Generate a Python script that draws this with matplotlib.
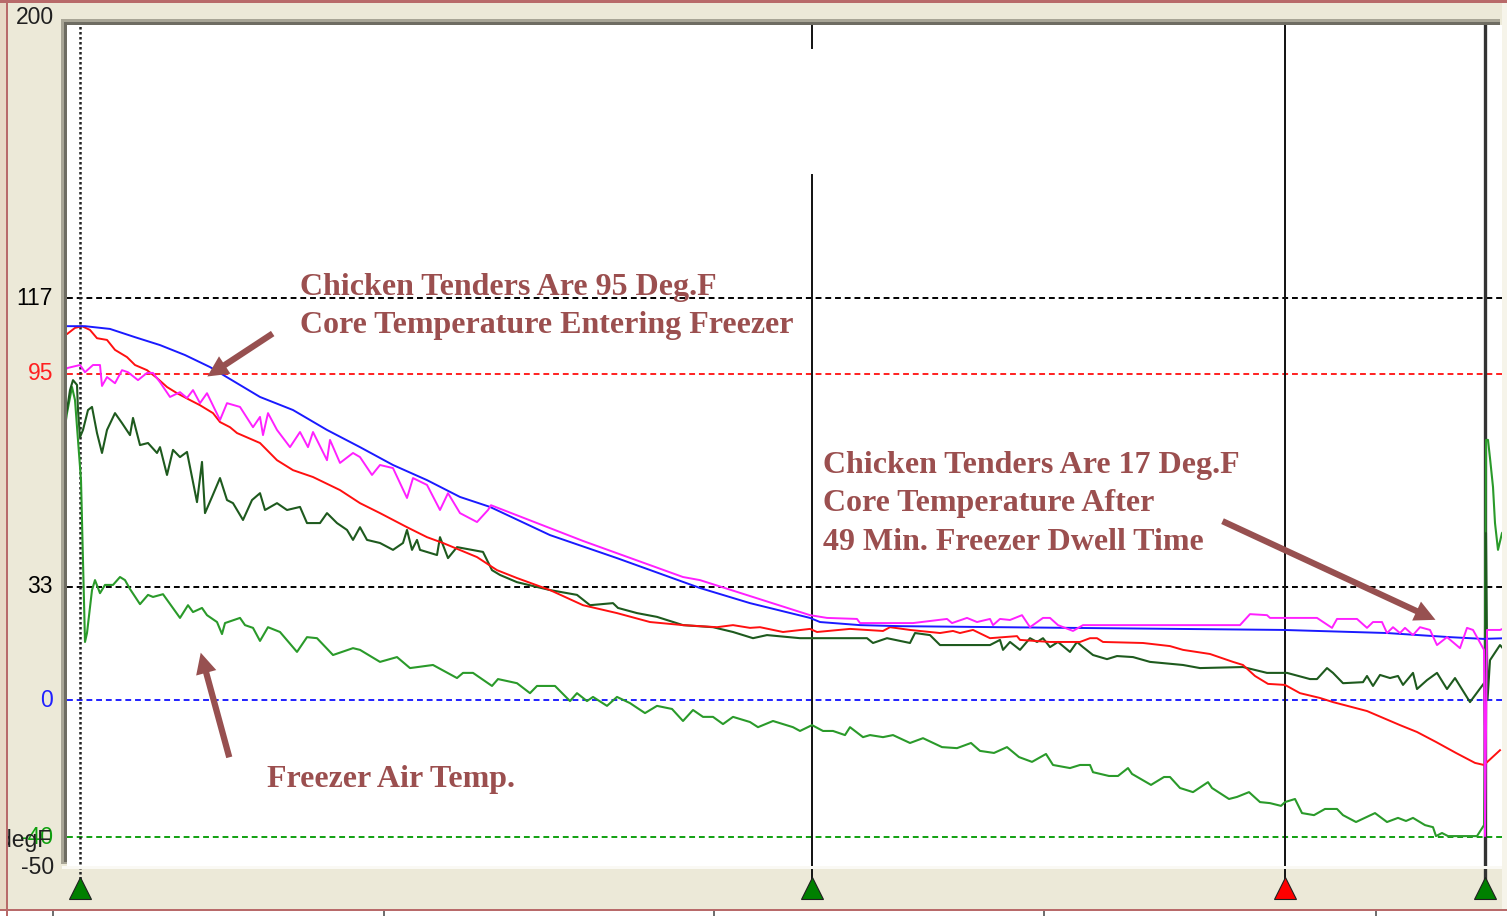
import matplotlib
matplotlib.use("Agg")
import matplotlib.pyplot as plt
from matplotlib.patches import Rectangle, FancyArrowPatch

# time in minutes, temperatures in deg F
blue_t = [-0.72, 0.2, 1.2, 2.2, 3.2, 4.2, 5.2, 7.2, 8.52, 9.88, 11.2, 12.52, 13.88, 15.2, 16.4,
          18.8, 21.48, 24.8, 26.8, 29.2, 29.6, 31.2, 32.8, 36.8, 48.12, 52.28, 54.8, 56.12, 57.08]
blue_v = [108.8, 108.8, 108.0, 105.6, 103.3, 100.4, 96.9, 88.2, 84.4, 78.6, 73.6, 68.4, 64.0, 59.1, 56.2,
          48.0, 41.3, 32.6, 28.2, 23.9, 22.7, 21.8, 21.5, 21.2, 20.4, 19.5, 18.3, 17.8, 18.0]

red_t = [-0.72, -0.52, -0.2, 0.08, 0.4, 0.68, 1.08, 1.4, 1.88, 2.2, 2.68, 3.08, 3.48, 3.88, 4.4, 4.8,
         5.32, 5.6, 6.0, 6.28, 7.2, 7.88, 8.52, 9.32, 10.4, 11.2, 12.0, 13.08, 13.88, 14.52, 15.88,
         16.68, 17.48, 18.8, 20.12, 21.48, 22.8, 24.12, 25.48, 26.12, 26.8, 27.2, 28.12, 29.2, 29.48,
         30.8, 32.12, 32.4, 33.2, 34.4, 34.92, 35.2, 35.72, 36.4, 37.48, 37.6, 38.8, 40.0, 40.4, 40.68,
         40.92, 42.52, 43.6, 44.12, 45.2, 46.12, 46.52, 47.0, 47.52, 48.2, 48.8, 49.6, 50.12, 51.48,
         52.8, 53.48, 54.24, 55.04, 55.8, 56.16, 56.8]
red_v = [107.4, 106.5, 108.3, 108.8, 107.7, 105.3, 104.8, 101.9, 99.8, 97.5, 96.0, 93.7, 91.1, 89.3, 87.3, 85.8,
         83.5, 80.9, 79.4, 77.7, 74.8, 69.8, 66.9, 64.9, 61.1, 57.3, 54.4, 50.3, 47.4, 45.7, 41.6,
         37.8, 35.5, 32.0, 27.6, 25.3, 22.7, 21.8, 21.2, 21.8, 21.0, 21.2, 19.8, 20.7, 19.8,
         20.7, 20.1, 21.2, 20.4, 19.5, 20.1, 19.5, 20.4, 18.0, 18.6, 17.5, 16.9, 16.9, 18.0, 18.0,
         16.9, 16.6, 15.7, 14.6, 13.4, 11.1, 10.2, 7.0, 4.7, 4.4, 2.0, 0.6, -0.6, -3.2,
         -7.3, -9.3, -12.2, -15.4, -18.3, -18.9, -14.6]

magenta_t = [-0.72, -0.52, 0.0, 0.2, 0.52, 0.8, 0.88, 1.08, 1.4, 1.68, 1.92, 2.32, 2.68, 2.92, 3.2, 3.6,
             4.0, 4.28, 4.52, 4.8, 5.08, 5.6, 5.88, 6.4, 6.92, 7.2, 7.32, 7.52, 7.88, 8.4, 8.8, 9.12,
             9.32, 9.88, 10.0, 10.4, 10.92, 11.2, 11.68, 12.0, 12.52, 13.08, 13.32, 13.88, 14.4, 14.72,
             15.2, 15.88, 16.32, 16.44, 20.12, 24.12, 24.8, 29.2, 29.88, 31.08, 31.2, 33.32, 34.0,
             34.68, 34.88, 35.48, 35.88, 36.4, 36.52, 36.8, 37.2, 37.68, 38.0, 38.52, 38.8, 39.12,
             39.72, 40.12, 46.4, 46.8, 47.48, 47.6, 49.48, 50.08, 50.28, 51.08, 51.48, 51.72, 52.08,
             52.28, 52.52, 52.8, 53.0, 53.32, 53.6, 54.0, 54.28, 54.68, 55.2, 55.48, 55.72, 56.16,
             56.2, 56.28, 56.8, 57.08]
magenta_v = [94.0, 96.6, 97.5, 95.4, 97.5, 97.5, 91.4, 94.0, 92.2, 96.0, 95.4, 93.1, 95.2, 95.2, 92.5, 88.2,
             89.6, 87.9, 90.2, 86.4, 89.3, 81.5, 86.4, 85.3, 79.4, 82.4, 77.1, 83.5, 78.6, 73.6, 78.0, 73.6,
             78.0, 69.8, 75.7, 69.0, 71.9, 70.7, 65.5, 68.4, 67.5, 58.8, 64.6, 62.6, 55.3, 60.2,
             54.4, 51.8, 55.3, 56.7, 46.3, 35.8, 34.9, 24.7, 23.9, 23.6, 22.4, 22.4, 23.0,
             23.6, 22.4, 23.9, 22.7, 23.6, 21.8, 23.6, 23.3, 24.7, 21.2, 23.9, 23.9, 21.8,
             20.1, 21.8, 21.8, 25.0, 24.7, 23.9, 23.9, 21.0, 23.6, 23.6, 21.0, 22.7, 22.7,
             19.5, 21.2, 19.5, 21.0, 18.9, 21.2, 20.4, 16.0, 18.3, 15.1, 21.0, 20.4, 14.6,
             -39.6, 20.4, 20.4, 21.2]

dkgreen_t = [-0.72, -0.68, -0.52, -0.4, -0.28, -0.12, -0.08, 0.0, 0.12, 0.32, 0.48, 0.68, 0.88, 1.08,
             1.4, 1.68, 2.0, 2.12, 2.4, 2.72, 3.08, 3.2, 3.48, 3.72, 4.0, 4.28, 4.68, 4.88, 5.0, 5.28,
             5.6, 5.88, 6.12, 6.52, 6.88, 7.2, 7.4, 7.88, 8.28, 8.8, 9.08, 9.6, 9.88, 10.28, 10.68,
             10.92, 11.2, 11.48, 12.0, 12.52, 12.92, 13.08, 13.28, 13.48, 13.6, 14.28, 14.4, 14.72,
             15.08, 16.12, 16.48, 16.8, 17.48, 18.8, 19.88, 20.4, 21.32, 21.52, 22.28, 23.08, 24.12,
             25.32, 26.12, 26.92, 27.48, 28.8, 31.48, 31.72, 32.28, 33.2, 33.4, 34.0, 34.4, 36.4,
             36.8, 36.92, 37.2, 37.6, 38.0, 38.28, 38.52, 38.8, 39.12, 39.6, 39.88, 40.12, 40.52,
             41.08, 41.48, 42.12, 42.8, 44.12, 44.8, 46.52, 47.48, 48.28, 49.2, 49.48, 49.88, 50.12,
             50.52, 51.32, 51.48, 51.72, 52.0, 52.4, 52.72, 52.92, 53.32, 53.48, 53.88, 54.28, 54.68,
             55.0, 55.6, 56.16, 56.2, 56.24, 56.3, 56.4, 56.8, 57.08]
dkgreen_v = [73.6, 79.4, 84.4, 90.2, 93.1, 91.7, 84.4, 76.5, 78.6, 84.4, 85.3, 77.7, 71.9, 78.6,
             83.5, 80.6, 77.1, 82.1, 74.2, 74.8, 71.9, 73.6, 65.5, 72.8, 70.7, 72.2, 57.6, 69.3, 54.4, 59.1,
             64.6, 58.2, 57.3, 52.4, 58.2, 60.2, 55.3, 57.3, 55.3, 56.2, 51.5, 51.5, 54.4, 51.5, 49.5,
             46.6, 50.3, 46.6, 45.7, 43.7, 45.7, 49.5, 43.7, 46.6, 43.7, 42.2, 47.4, 41.3,
             44.5, 43.1, 37.8, 36.4, 34.3, 32.0, 30.6, 27.6, 28.2, 26.8, 25.3, 24.2, 21.8,
             21.2, 19.8, 18.0, 18.9, 18.0, 18.0, 16.6, 18.0, 16.6, 19.5, 18.9, 16.0, 16.0,
             17.5, 14.6, 16.9, 14.6, 18.0, 16.9, 18.0, 15.4, 16.9, 14.0, 16.9, 15.4, 13.1,
             11.9, 12.8, 12.5, 11.1, 10.2, 9.3, 9.6, 7.9, 7.9, 6.1, 6.1, 9.3, 7.9,
             4.9, 5.2, 7.0, 4.1, 7.3, 6.4, 7.0, 4.4, 7.9, 3.2, 5.8, 7.9, 3.2,
             6.4, -0.6, 4.9, -7.3, 48.6, 0.0, 11.6, 16.0, 13.7]

air_t = [-0.72, -0.52, -0.32, -0.2, -0.08, 0.04, 0.08, 0.16, 0.2, 0.28, 0.48, 0.6, 0.8, 1.0, 1.32,
         1.6, 1.8, 2.0, 2.4, 2.72, 2.92, 3.32, 4.0, 4.32, 4.52, 4.88, 5.08, 5.48, 5.68, 5.8, 6.4,
         6.6, 6.92, 7.2, 7.52, 8.0, 8.68, 9.08, 9.48, 10.12, 10.92, 11.2, 12.0, 12.68, 13.2, 14.12,
         15.08, 15.32, 15.72, 16.48, 16.72, 17.48, 18.0, 18.28, 19.0, 19.6, 19.88, 20.28, 20.52,
         21.08, 21.48, 22.0, 22.6, 23.08, 23.68, 24.12, 24.52, 24.92, 25.32, 25.72, 26.12, 26.8,
         27.12, 27.72, 28.52, 28.8, 29.28, 29.72, 30.12, 30.6, 30.8, 31.32, 31.6, 32.12, 32.52,
         33.2, 33.72, 34.48, 35.08, 35.64, 36.0, 36.56, 37.08, 37.56, 38.08, 38.64, 38.92, 39.6,
         40.0, 40.4, 40.52, 41.16, 41.52, 41.92, 42.08, 42.84, 43.36, 43.6, 44.0, 44.52, 45.12,
         45.28, 45.96, 46.28, 46.76, 47.2, 47.6, 48.04, 48.2, 48.6, 48.88, 49.36, 49.8, 50.28,
         50.52, 51.04, 51.8, 52.28, 52.72, 53.04, 53.32, 53.8, 54.12, 54.24, 54.48, 54.72, 55.88,
         56.16, 56.24, 56.32, 56.4, 56.52, 56.6, 56.72, 56.88, 57.08]
air_v = [73.6, 83.5, 91.1, 87.3, 75.7, 64.0, 52.4, 29.1, 16.9, 19.5, 32.0, 34.9, 31.1, 33.5, 33.5,
         35.8, 34.9, 32.3, 27.9, 30.6, 30.0, 30.8, 23.9, 27.6, 25.6, 26.8, 24.7, 22.7, 19.2, 22.4, 23.9,
         21.8, 21.0, 17.2, 21.2, 19.8, 14.0, 18.3, 18.0, 13.1, 15.1, 14.6, 11.1, 12.5, 9.3, 10.2,
         6.4, 7.9, 7.9, 4.1, 6.1, 4.9, 2.0, 4.1, 4.1, -0.3, 2.0, -0.3, 0.9,
         -1.7, 0.9, -0.9, -3.8, -1.7, -2.6, -6.1, -2.9, -4.9, -4.9, -7.0, -4.9, -6.4,
         -7.9, -6.1, -7.9, -9.0, -7.3, -9.0, -9.0, -10.2, -7.9, -10.8, -10.2, -10.8, -10.2,
         -12.5, -11.1, -13.7, -14.0, -12.5, -14.8, -15.4, -13.7, -16.6, -18.0, -15.7, -18.9, -19.8,
         -18.9, -18.9, -21.0, -22.1, -22.1, -19.8, -21.5, -24.7, -22.4, -22.4, -25.6, -26.8, -23.9,
         -25.6, -28.8, -28.2, -26.8, -29.7, -30.0, -30.8, -29.7, -28.8, -32.9, -33.5, -31.7, -31.7,
         -33.5, -35.5, -32.9, -35.5, -34.3, -35.2, -34.3, -36.4, -37.0, -39.6, -38.7, -39.6, -39.6,
         -36.4, 75.7, 75.7, 70.4, 62.0, 51.5, 43.7, 48.6, 50.1]

marker_t = [0.0, 29.28, 48.2, 56.2]
marker_colors = ['#008000', '#008000', '#FF0000', '#008000']

ref_levels = [117, 95, 33, 0, -40]
ref_colors = ['black', '#FF2020', 'black', '#2020FF', '#10A010']
ref_labels = ['117', '95', '33', '0', '-40']

W, H = 1507, 916
TAN = '#ECE9D8'
BROWN = '#9B4F4F'


def fx(x):
    return x / W


def fy(y):
    return 1 - y / H


fig = plt.figure(figsize=(W / 100, H / 100), dpi=100)
fig.patch.set_facecolor(TAN)

ax = fig.add_axes([fx(67), fy(866), fx(1502) - fx(67), fy(25) - fy(866)])
ax.set_facecolor('white')
ax.set_xlim(-0.52, 56.88)
ax.set_ylim(-48.3, 196.45)
ax.set_xticks([])
ax.set_yticks([])
for s in ax.spines.values():
    s.set_visible(False)

# reference levels
for lvl, c in zip(ref_levels, ref_colors):
    ax.axhline(lvl, color=c, lw=1.4, ls=(0, (3, 2)), zorder=1)

# event marker lines, running down into the marker strip
below = -(884 - 866) / 841
ax.axvline(marker_t[0], ymin=below, ymax=1, color='#222222', lw=1.8, ls=(0, (1, 1)), clip_on=False, zorder=2)
ax.axvline(marker_t[1], ymin=(866 - 48) / 841, ymax=1, color='#111111', lw=1.4, clip_on=False, zorder=2)
ax.axvline(marker_t[1], ymin=below, ymax=(866 - 175) / 841, color='#111111', lw=1.4, clip_on=False, zorder=2)
ax.axvline(marker_t[2], ymin=below, ymax=1, color='#111111', lw=1.4, clip_on=False, zorder=2)
ax.axvline(marker_t[3], ymin=below, ymax=1, color='#333333', lw=2.4, clip_on=False, zorder=2)

# traces
ax.plot(air_t, air_v, color='#2A9A2A', lw=1.5, zorder=3)
ax.plot(dkgreen_t, dkgreen_v, color='#1E5A1E', lw=1.5, zorder=4)
ax.plot(red_t, red_v, color='#FF1010', lw=1.4, zorder=5)
ax.plot(blue_t, blue_v, color='#1A1AFF', lw=1.4, zorder=6)
ax.plot(magenta_t, magenta_v, color='#FF20FF', lw=1.4, zorder=7)

# event triangles
for t, c in zip(marker_t, marker_colors):
    ax.plot([t], [-(888 - 866) / 841], marker='^', markersize=15.5, color=c,
            markeredgecolor='#202020', markeredgewidth=0.8,
            transform=ax.get_xaxis_transform(), clip_on=False, zorder=8)

# sunken frame around the plot
fig.add_artist(Rectangle((fx(61), fy(864)), fx(6), fy(19) - fy(864), color='#A8A596', lw=0, zorder=1))
fig.add_artist(Rectangle((fx(61), fy(25)), fx(1500) - fx(61), fy(19) - fy(25), color='#A8A596', lw=0, zorder=1))
fig.add_artist(Rectangle((fx(64), fy(862)), fx(3), fy(22) - fy(862), color='#6E6C62', lw=0, zorder=1))
fig.add_artist(Rectangle((fx(64), fy(25)), fx(1500) - fx(64), fy(22) - fy(25), color='#6E6C62', lw=0, zorder=1))
fig.add_artist(Rectangle((fx(62), fy(869)), fx(1502) - fx(62), fy(866) - fy(869), color='#FAF9F4', lw=0, zorder=1))
fig.add_artist(Rectangle((fx(1502), fy(916)), fx(5), 1, color='#F6F4EA', lw=0, zorder=1))

# y labels
lab_font = dict(family='Liberation Sans', fontsize=16.5, ha='right', va='center')
fig.text(fx(54), fy(18), '200', color='#202020', **lab_font)
fig.text(fx(54), fy(868), '-50', color='#202020', **lab_font)
fig.text(fx(51), fy(840), 'degF', color='#202020', zorder=3, **lab_font)
for lvl, c, lab in zip(ref_levels, ref_colors, ref_labels):
    ax.text(-14 / 1435, lvl, lab, color=c, transform=ax.get_yaxis_transform(), zorder=4, **lab_font)

# window border and status bar
fig.add_artist(Rectangle((0, 0), fx(6), 1, color='#E8D9C6', lw=0, zorder=20))
fig.add_artist(Rectangle((fx(6), 0), fx(2), 1, color='#B86A6A', lw=0, zorder=21))
fig.add_artist(Rectangle((0, fy(3)), 1, fy(0) - fy(3), color='#B86A6A', lw=0, zorder=21))
fig.add_artist(Rectangle((0, 0), 1, fy(910), color='white', lw=0, zorder=20))
fig.add_artist(Rectangle((0, fy(911)), 1, fy(909) - fy(911), color='#B86A6A', lw=0, zorder=21))
for xs in [52, 383, 713, 1043, 1375]:
    fig.add_artist(Rectangle((fx(xs), 0), fx(2), fy(911), color='#707070', lw=0, zorder=21))

# annotations
note = dict(family='Liberation Serif', fontsize=23, fontweight='bold', color=BROWN,
            ha='left', va='center')
fig.text(fx(300), fy(287), 'Chicken Tenders Are 95 Deg.F', **note)
fig.text(fx(300), fy(326), 'Core Temperature Entering Freezer', **note)
fig.text(fx(823), fy(466), 'Chicken Tenders Are 17 Deg.F', **note)
fig.text(fx(823), fy(504), 'Core Temperature After', **note)
fig.text(fx(823), fy(542), '49 Min. Freezer Dwell Time', **note)
fig.text(fx(267), fy(780), 'Freezer Air Temp.', **note)

arrows = [((275, 332), (205, 378)), ((1220, 520), (1438, 621)), ((230, 760), (200, 650))]
for (x0, y0), (x1, y1) in arrows:
    fig.add_artist(FancyArrowPatch((fx(x0), fy(y0)), (fx(x1), fy(y1)), transform=fig.transFigure,
                                   arrowstyle='simple,head_width=1.5,head_length=1.5,tail_width=0.45',
                                   mutation_scale=10, color='#975050', lw=0, zorder=15))

fig.savefig('out.png', dpi=100, facecolor=fig.get_facecolor())
